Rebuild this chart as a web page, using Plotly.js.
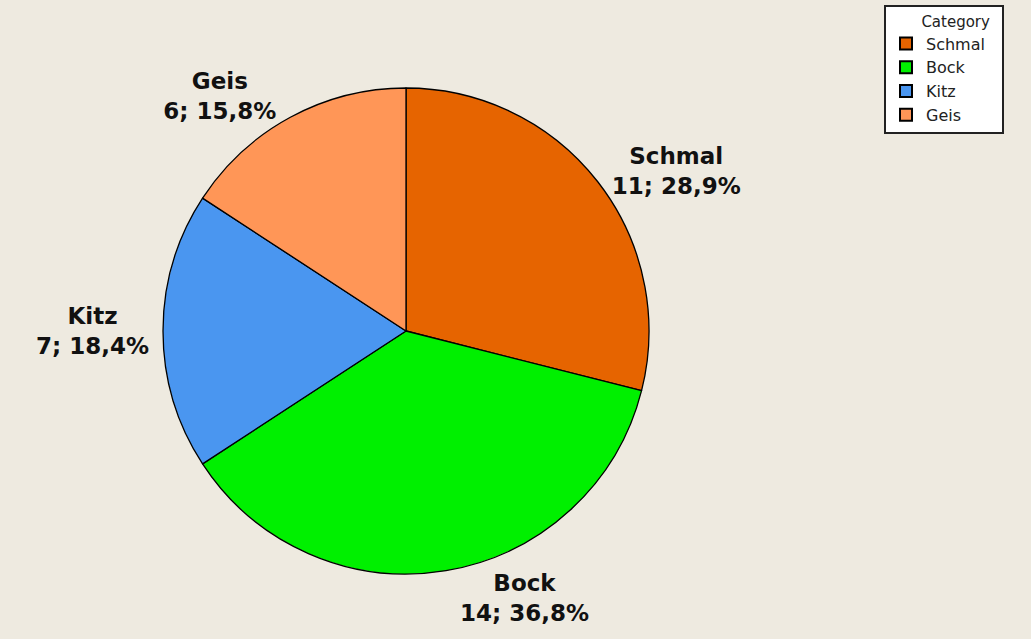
<!DOCTYPE html>
<html>
<head>
<meta charset="utf-8">
<script src="https://cdn.plot.ly/plotly-3.0.1.min.js"></script>
<style>
  html, body { margin: 0; padding: 0; background: #EEEAE0; }
  #chart { width: 1031px; height: 639px; }
</style>
</head>
<body>
<div id="chart"></div>
<script>
// Kategorien und Anzahlen
let categories = ['Schmal', 'Bock', 'Kitz', 'Geis'];
let counts = [11, 14, 7, 6];
let percents = ['28,9%', '36,8%', '18,4%', '15,8%'];
let sliceColors = ['#E66400', '#00F000', '#4A96F0', '#FF9657'];

let labelText = [];
for (let i = 0; i < categories.length; i++) {
    labelText.push('<b>' + categories[i] + '</b><br><b>' + counts[i] + '; ' + percents[i] + '</b>');
}

let W = 1031, H = 639;
let cx = 406, cy = 331, r = 243;

let trace = {
    type: 'pie',
    labels: categories,
    values: counts,
    text: labelText,
    textinfo: 'text',
    textposition: 'outside',
    sort: false,
    direction: 'clockwise',
    rotation: 0,
    marker: { colors: sliceColors, line: { color: '#000000', width: 1.3 } },
    outsidetextfont: { family: 'DejaVu Sans, Verdana, sans-serif', size: 23, color: '#111111' },
    domain: {
        x: [(cx - r) / W, (cx + r) / W],
        y: [1 - (cy + r) / H, 1 - (cy - r) / H]
    },
    hoverinfo: 'none'
};

let layout = {
    width: W,
    height: H,
    paper_bgcolor: '#EEEAE0',
    plot_bgcolor: '#EEEAE0',
    margin: { l: 0, r: 0, t: 0, b: 0 },
    showlegend: true,
    legend: {
        x: 884 / W,
        y: 1 - 5 / H,
        xanchor: 'left',
        yanchor: 'top',
        bgcolor: '#FFFFFF',
        bordercolor: '#222222',
        borderwidth: 2,
        font: { family: 'DejaVu Sans, Verdana, sans-serif', size: 16, color: '#222222' },
        title: {
            text: '&nbsp;&nbsp;&nbsp;&nbsp;&nbsp;&nbsp;&nbsp;Category&nbsp;&nbsp;',
            font: { family: 'DejaVu Sans, Verdana, sans-serif', size: 15, color: '#222222' }
        },
        itemsizing: 'constant',
        tracegroupgap: 0
    }
};

Plotly.newPlot('chart', [trace], layout, { displayModeBar: false, staticPlot: true });
</script>
</body>
</html>
